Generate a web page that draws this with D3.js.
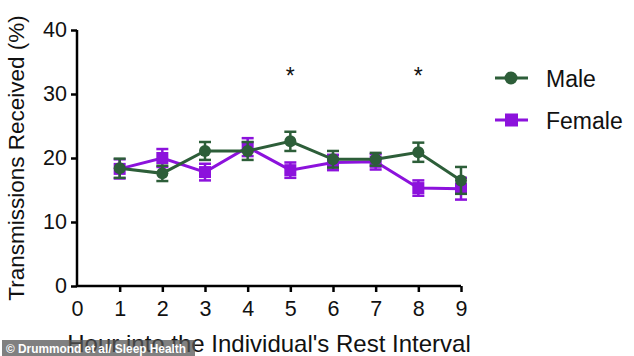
<!DOCTYPE html>
<html><head><meta charset="utf-8">
<script src="https://d3js.org/d3.v7.min.js"></script>
<style>body{margin:0;background:#fff;}svg{display:block;}</style>
</head><body>
<script>
const hours = [1,2,3,4,5,6,7,8,9];
const maleValues = [18.4,17.6,21.1,21.1,22.6,19.8,19.8,20.9,16.5];
const maleErrors = [1.5,1.2,1.4,1.4,1.5,1.3,1.0,1.5,2.1];
const femaleValues = [18.3,20.0,17.8,21.7,18.1,19.3,19.4,15.3,15.2];
const femaleErrors = [1.5,1.4,1.3,1.4,1.2,1.2,1.2,1.2,1.7];
const xTicks = [0,1,2,3,4,5,6,7,8,9];
const yTicks = [0,10,20,30,40];
const starHours = [5,8];
const seriesNames = ["Male","Female"];
const colors = {Male:"#2d5e39", Female:"#8c12dc"};

const W=634,H=356;
const svg=d3.select("body").append("svg").attr("width",W).attr("height",H);
const x=d3.scaleLinear().domain([0,9]).range([77,461]);
const y=d3.scaleLinear().domain([0,40]).range([286,30]);
const font="Arial, 'Liberation Sans', sans-serif";

// axes
const yAxis=svg.append("g").attr("transform","translate(77,0)")
  .call(d3.axisLeft(y).tickValues(yTicks).tickSize(6).tickPadding(4));
const xAxis=svg.append("g").attr("transform","translate(0,286)")
  .call(d3.axisBottom(x).tickValues(xTicks).tickSize(6).tickPadding(9));
[yAxis,xAxis].forEach(a=>{
  a.select(".domain").attr("stroke","#000").attr("stroke-width",2.5);
  a.selectAll(".tick line").attr("stroke","#000").attr("stroke-width",2.5);
  a.selectAll("text").attr("font-family",font).attr("font-size",21.5).attr("fill","#111");
});
xAxis.select(".domain").attr("d","M77,0H461");
yAxis.select(".domain").attr("d","M0,286V30");
xAxis.selectAll(".tick").filter(d=>d===0).select("line").remove();

// titles
svg.append("text").attr("transform","translate(24,158) rotate(-90)")
  .attr("text-anchor","middle").attr("font-family",font).attr("font-size",22.5).attr("fill","#111")
  .text("Transmissions Received (%)");
svg.append("text").attr("x",269).attr("y",352).attr("text-anchor","middle")
  .attr("font-family",font).attr("font-size",24).attr("fill","#111")
  .text("Hour into the Individual's Rest Interval");

const data=[
  {name:"Male",vals:maleValues,errs:maleErrors},
  {name:"Female",vals:femaleValues,errs:femaleErrors}
];
const order=[data[1],data[0]];
const line=d3.line().x((d,i)=>x(hours[i])).y(d=>y(d));
order.forEach(s=>{
  const c=colors[s.name];
  const g=svg.append("g");
  g.append("path").attr("d",line(s.vals)).attr("fill","none").attr("stroke",c).attr("stroke-width",3);
  s.vals.forEach((v,i)=>{
    const cx=x(hours[i]), e=s.errs[i];
    g.append("line").attr("x1",cx).attr("x2",cx).attr("y1",y(v-e)).attr("y2",y(v+e)).attr("stroke",c).attr("stroke-width",2.5);
    [v-e,v+e].forEach(t=>g.append("line").attr("x1",cx-6).attr("x2",cx+6).attr("y1",y(t)).attr("y2",y(t)).attr("stroke",c).attr("stroke-width",2.5));
    if(s.name==="Male") g.append("circle").attr("cx",cx).attr("cy",y(v)).attr("r",6).attr("fill",c);
    else g.append("rect").attr("x",cx-6).attr("y",y(v)-6).attr("width",12).attr("height",12).attr("fill",c);
  });
});

// stars
starHours.forEach(h=>svg.append("text").attr("x",x(h)).attr("y",84).attr("text-anchor","middle")
  .attr("font-family",font).attr("font-size",23).attr("fill","#111").text("*"));

// legend
seriesNames.forEach((n,i)=>{
  const ly=78+i*42, c=colors[n];
  svg.append("line").attr("x1",495).attr("x2",528).attr("y1",ly).attr("y2",ly).attr("stroke",c).attr("stroke-width",3);
  if(n==="Male") svg.append("circle").attr("cx",511).attr("cy",ly).attr("r",6.5).attr("fill",c);
  else svg.append("rect").attr("x",505).attr("y",ly-6.5).attr("width",13).attr("height",13).attr("fill",c);
  svg.append("text").attr("x",546).attr("y",ly+9).attr("font-family",font).attr("font-size",23).attr("fill","#111").text(n);
});

// watermark
svg.append("rect").attr("x",2).attr("y",340).attr("width",193).attr("height",16).attr("fill","#555").attr("opacity",0.75);
svg.append("text").attr("x",6).attr("y",353).attr("font-family",font).attr("font-size",13).attr("font-weight","bold").attr("fill","#fff")
  .attr("textLength",180).attr("lengthAdjust","spacingAndGlyphs")
  .text("© Drummond et al/ Sleep Health");
</script>
</body></html>
